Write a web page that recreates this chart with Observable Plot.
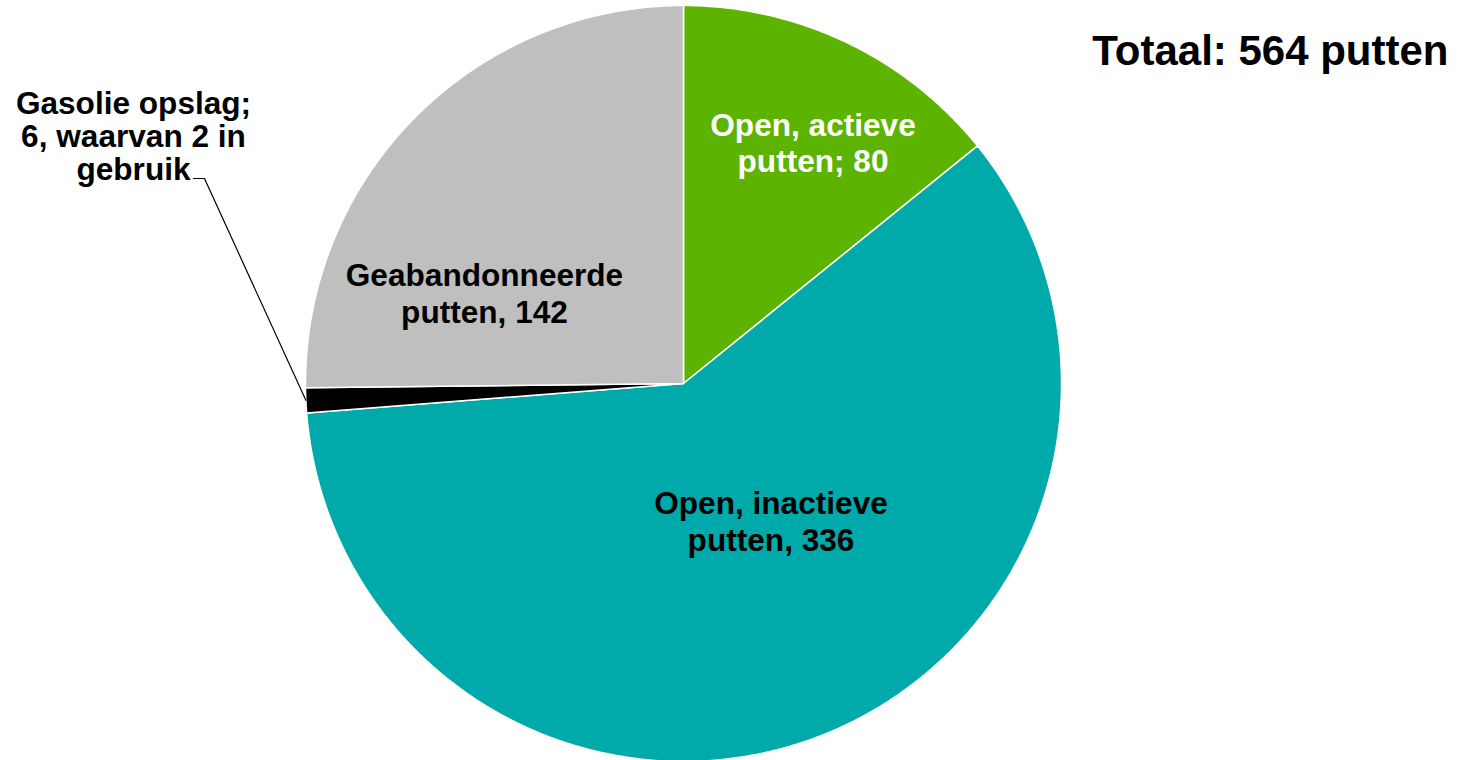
<!DOCTYPE html>
<html>
<head>
<meta charset="utf-8">
<script src="https://cdn.jsdelivr.net/npm/d3@7"></script>
<script src="https://cdn.jsdelivr.net/npm/@observablehq/plot@0.6"></script>
<style>
  html, body { margin: 0; padding: 0; background: #ffffff; }
  #chart svg { display: block; }
</style>
</head>
<body>
<div id="chart"></div>
<script>
// ---- Data ----
const categories = ["Open, actieve putten", "Open, inactieve putten", "Gasolie opslag", "Geabandonneerde putten"];
const values = [80, 336, 6, 142];
const labelTexts = [
  "Open, actieve\nputten; 80",
  "Open, inactieve\nputten, 336",
  "Gasolie opslag;\n6, waarvan 2 in\ngebruik",
  "Geabandonneerde\nputten, 142"
];
const colors = ["#5cb300", "#00aaaa", "#000000", "#bfbfbf"];
const labelColors = ["#ffffff", "#000000", "#000000", "#000000"];
const titleText = "Totaal: " + d3.sum(values) + " putten";

// ---- Layout (pie units: radius = 1, centre at 0,0) ----
const W = 1458, H = 760;
const cx = 683, cy = 383, R = 378;
const xDomain = [-cx / R, (W - cx) / R];
const yDomain = [(cy - H) / R, cy / R];
const labelLayout = [
  {x: 0.3426, y: 0.6376, lh: 1.12},
  {x: 0.2315, y: -0.3638, lh: 1.15},
  {x: -1.455, y: 0.6534, lh: 1.04},
  {x: -0.5265, y: 0.2394, lh: 1.16}
];
const leaderStart = [{x: -1.2963, y: 0.5423}, {x: -1.2672, y: 0.5423}];

// ---- Pie geometry ----
const arcs = d3.pie().sort(null).value(d => d)(values);
const pts = [];
arcs.forEach((a, i) => {
  const n = Math.max(4, Math.ceil((a.endAngle - a.startAngle) / 0.01));
  pts.push({i, cat: categories[i], x: 0, y: 0});
  for (let k = 0; k <= n; k++) {
    const t = a.startAngle + (a.endAngle - a.startAngle) * k / n;
    pts.push({i, cat: categories[i], x: Math.sin(t), y: Math.cos(t)});
  }
  pts.push({i, cat: categories[i], x: 0, y: 0});
});

const blackMid = (arcs[2].startAngle + arcs[2].endAngle) / 2;
const leader = [...leaderStart, {x: Math.sin(blackMid), y: Math.cos(blackMid)}];

const labelData = labelTexts.map((t, i) => ({text: t, fill: labelColors[i], ...labelLayout[i]}));

const font = "'Liberation Sans', Arial, Helvetica, sans-serif";

const chart = Plot.plot({
  width: W,
  height: H,
  margin: 0,
  x: {domain: xDomain, axis: null},
  y: {domain: yDomain, axis: null},
  color: {domain: categories, range: colors},
  style: {fontFamily: font, background: "#ffffff"},
  marks: [
    Plot.line(pts, {x: "x", y: "y", z: "i", fill: "cat", stroke: "#ffffff", strokeWidth: 1.5, strokeLinejoin: "round"}),
    Plot.line(leader, {x: "x", y: "y", stroke: "#000000", strokeWidth: 1.2}),
    ...labelData.map(d => Plot.text([d], {
      x: "x", y: "y", text: "text", fill: d.fill,
      fontSize: 31.6, fontWeight: "bold", textAnchor: "middle", lineHeight: d.lh
    })),
    Plot.text([titleText], {
      frameAnchor: "top-right", text: d => d, textAnchor: "end", lineAnchor: "top",
      dx: -10, dy: 35, fontSize: 42, fontWeight: "bold", fill: "#000000"
    })
  ]
});

document.getElementById("chart").appendChild(chart);
</script>
</body>
</html>
